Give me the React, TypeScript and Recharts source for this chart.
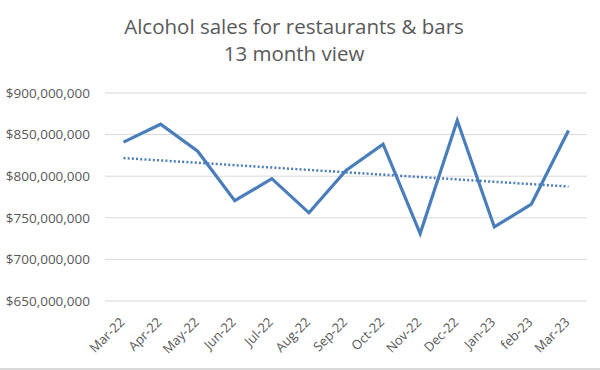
import React from 'react';
import { LineChart, Line, XAxis, YAxis, CartesianGrid, ReferenceLine } from 'recharts';

const months = ['Mar-22', 'Apr-22', 'May-22', 'Jun-22', 'Jul-22', 'Aug-22', 'Sep-22', 'Oct-22', 'Nov-22', 'Dec-22', 'Jan-23', 'feb-23', 'Mar-23'];
const sales = [841000000, 862500000, 830000000, 770500000, 797000000, 756000000, 807000000, 838500000, 731000000, 867000000, 739000000, 766500000, 855000000];
const yTicks = [650000000, 700000000, 750000000, 800000000, 850000000, 900000000];
const trendStart = 821800000;
const trendEnd = 787600000;
const titleLines = ['Alcohol sales for restaurants & bars', '13 month view'];

const data = months.map((m, i) => ({ month: m, sales: sales[i] }));

const FONT = '"Open Sans", sans-serif';
const GRAY = '#595959';
const BLUE = '#4a7ebb';

const XTick = (props: any) => {
  const { x, y, payload } = props;
  const ax = x + 2;
  const ay = y + 14;
  return (
    <text
      x={ax}
      y={ay}
      transform={`rotate(-45, ${ax}, ${ay})`}
      textAnchor="end"
      fontSize={13}
      fontFamily={FONT}
      fill={GRAY}
    >
      {payload.value}
    </text>
  );
};

export default function App() {
  return (
    <div style={{ position: 'fixed', left: 0, top: 0, width: 600, height: 370, background: '#fff' }}>
      <div
        style={{
          position: 'absolute',
          left: 0,
          top: 13,
          width: 588,
          textAlign: 'center',
          fontFamily: FONT,
          fontSize: 20.5,
          lineHeight: '27px',
          color: GRAY,
        }}
      >
        {titleLines.map((t) => (
          <div key={t}>{t}</div>
        ))}
      </div>
      <LineChart width={600} height={370} data={data} margin={{ top: 93, right: 13, bottom: 0, left: 0 }}>
        <CartesianGrid vertical={false} stroke="#d9d9d9" strokeWidth={1} />
        <XAxis
          dataKey="month"
          axisLine={false}
          tickLine={false}
          height={69}
          interval={0}
          padding={{ left: 18.5, right: 18.5 }}
          tick={<XTick />}
        />
        <YAxis
          domain={[650000000, 900000000]}
          ticks={yTicks}
          axisLine={false}
          tickLine={false}
          width={105}
          tickMargin={9}
          tick={{ fontSize: 13.5, fontFamily: FONT, fill: GRAY }}
          tickFormatter={(v: number) => `$${v.toLocaleString('en-US')}`}
        />
        <Line
          type="linear"
          dataKey="sales"
          stroke={BLUE}
          strokeWidth={3.2}
          dot={false}
          isAnimationActive={false}
        />
        <ReferenceLine
          segment={[
            { x: months[0], y: trendStart },
            { x: months[months.length - 1], y: trendEnd },
          ]}
          stroke={BLUE}
          strokeWidth={2.5}
          strokeDasharray="2 2.2"
        />
      </LineChart>
      <div style={{ position: 'absolute', left: 0, top: 368, width: 600, height: 2, background: '#d9d9d9' }} />
    </div>
  );
}
